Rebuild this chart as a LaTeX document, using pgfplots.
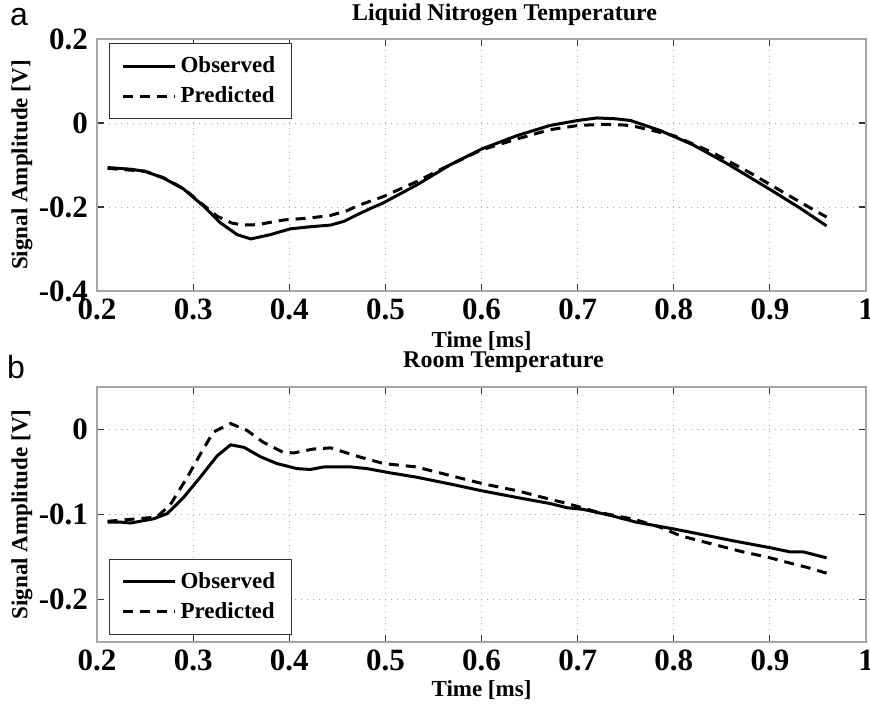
\documentclass[border=0pt]{standalone}
\usepackage{fontspec}
\setmainfont{Liberation Serif}
\newfontfamily\panelfont{Liberation Sans}
\usepackage{pgfplots}
\pgfplotsset{compat=1.18}

\tikzset{ttl/.style={font=\fontsize{12}{13}\selectfont\bfseries, anchor=center, inner sep=0pt}}

\pgfplotsset{
  myaxis/.style={
    scale only axis, width=384.5pt,
    clip mode=individual,
    xmin=0.2, xmax=1,
    xtick={0.2,0.3,0.4,0.5,0.6,0.7,0.8,0.9,1},
    xticklabels={0.2,0.3,0.4,0.5,0.6,0.7,0.8,0.9,1},
    ticklabel style={font=\fontsize{15.5}{15.5}\selectfont\bfseries},
    xticklabel style={yshift=-0.5pt},
    yticklabel style={xshift=-1pt},
    grid=major,
    major grid style={gray!70, line width=0.5pt, dash pattern=on 0.7pt off 2.3pt},
    axis line style={gray!70, line width=0.7pt},
    tick style={black!80, line width=0.6pt},
    major tick length=3.5pt,
    label style={font=\fontsize{11.5}{12}\selectfont\bfseries},
    xlabel={Time [ms]},
    ylabel={Signal Amplitude [V]},
    ylabel style={at={(axis description cs:-0.0975,0.5)}, anchor=center},
    legend cell align=left,
    legend image code/.code={\draw[#1] (0pt,0pt) -- (26pt,0pt);},
    legend style={font=\fontsize{11.5}{12}\selectfont\bfseries,
      draw=black!80, line width=0.6pt, inner xsep=6pt, inner ysep=4.5pt,
      row sep=1.5pt},
  },
  obs/.style={black, line width=1.5pt, line join=round},
  pred/.style={black, line width=1.5pt, dash pattern=on 5pt off 3.5pt},
}

\begin{document}
\begin{tikzpicture}
% Panel a
\begin{axis}[myaxis,
  at={(48.5pt,209pt)}, anchor=south west, height=126pt,
  ymin=-0.4, ymax=0.2,
  ytick={-0.4,-0.2,0,0.2}, yticklabels={-0.4,-0.2,0,0.2},
  xlabel style={at={(axis description cs:0.5,-0.198)}, anchor=center},
  legend style={at={(axis description cs:0,1)}, anchor=north west, xshift=6pt, yshift=-2pt},
]
\addplot[obs] coordinates {
(0.211,-0.106) (0.235,-0.110) (0.250,-0.115) (0.269,-0.131) (0.290,-0.157)
(0.311,-0.198) (0.328,-0.237) (0.346,-0.266) (0.360,-0.276) (0.380,-0.266)
(0.401,-0.252) (0.422,-0.247) (0.443,-0.243) (0.457,-0.234) (0.471,-0.218)
(0.485,-0.203) (0.498,-0.190) (0.533,-0.147) (0.567,-0.100) (0.600,-0.062)
(0.637,-0.030) (0.671,-0.006) (0.700,0.006) (0.720,0.012) (0.740,0.010)
(0.755,0.006) (0.786,-0.018) (0.820,-0.052) (0.855,-0.096) (0.900,-0.158)
(0.931,-0.202) (0.959,-0.245)
};
\addlegendentry{Observed}
\addplot[pred] coordinates {
(0.211,-0.108) (0.250,-0.115) (0.269,-0.130) (0.290,-0.156) (0.311,-0.196)
(0.325,-0.222) (0.340,-0.238) (0.352,-0.243) (0.367,-0.242) (0.394,-0.231)
(0.422,-0.226) (0.443,-0.220) (0.460,-0.209) (0.471,-0.197) (0.498,-0.175)
(0.533,-0.139) (0.557,-0.111) (0.600,-0.064) (0.637,-0.038) (0.671,-0.016)
(0.700,-0.006) (0.727,-0.003) (0.750,-0.005) (0.761,-0.009) (0.782,-0.020)
(0.800,-0.030) (0.841,-0.071) (0.879,-0.118) (0.914,-0.165) (0.935,-0.193)
(0.959,-0.224)
};
\addlegendentry{Predicted}
\node[ttl, xshift=11.5pt, yshift=12pt] at (rel axis cs:0.5,1) {Liquid Nitrogen Temperature};
\end{axis}

% Panel b
\begin{axis}[myaxis,
  at={(48.5pt,33.5pt)}, anchor=south west, height=127.5pt,
  ymin=-0.25, ymax=0.05,
  ytick={-0.2,-0.1,0}, yticklabels={-0.2,-0.1,0},
  xlabel style={at={(axis description cs:0.5,-0.19)}, anchor=center},
  legend style={at={(axis description cs:0,0)}, anchor=south west, xshift=6pt, yshift=3.5pt},
]
\addplot[obs] coordinates {
(0.211,-0.109) (0.225,-0.109) (0.235,-0.110) (0.259,-0.105) (0.273,-0.099)
(0.290,-0.080) (0.3075,-0.056) (0.325,-0.031) (0.339,-0.018) (0.353,-0.021)
(0.370,-0.032) (0.387,-0.040) (0.408,-0.046) (0.422,-0.047) (0.436,-0.044)
(0.464,-0.044) (0.481,-0.046) (0.505,-0.051) (0.532,-0.056) (0.567,-0.064)
(0.600,-0.072) (0.637,-0.080) (0.671,-0.087) (0.689,-0.092) (0.706,-0.094)
(0.734,-0.101) (0.761,-0.109) (0.800,-0.117) (0.827,-0.123) (0.862,-0.131)
(0.900,-0.139) (0.921,-0.144) (0.935,-0.144) (0.959,-0.151)
};
\addlegendentry{Observed}
\addplot[pred] coordinates {
(0.211,-0.108) (0.262,-0.103) (0.276,-0.089) (0.294,-0.056) (0.3075,-0.029)
(0.321,-0.003) (0.339,0.007) (0.356,-0.001) (0.373,-0.015) (0.394,-0.027)
(0.405,-0.0275) (0.425,-0.023) (0.443,-0.0216) (0.464,-0.029) (0.474,-0.0325)
(0.498,-0.040) (0.532,-0.044) (0.567,-0.054) (0.602,-0.064) (0.637,-0.072)
(0.671,-0.082) (0.689,-0.087) (0.720,-0.097) (0.760,-0.106) (0.786,-0.115)
(0.807,-0.125) (0.834,-0.133) (0.872,-0.144) (0.897,-0.150) (0.917,-0.156)
(0.938,-0.162) (0.959,-0.169)
};
\addlegendentry{Predicted}
\node[ttl, xshift=11pt, yshift=12.5pt] at (rel axis cs:0.5,1) {Room Temperature};
\end{axis}

\node[font=\panelfont\fontsize{16}{16}\selectfont] at (9.5pt,346pt) {a};
\node[font=\panelfont\fontsize{16}{16}\selectfont] at (8pt,171pt) {b};

\pgfresetboundingbox
\path (0pt,0pt) rectangle (435pt,354.5pt);
\end{tikzpicture}
\end{document}
